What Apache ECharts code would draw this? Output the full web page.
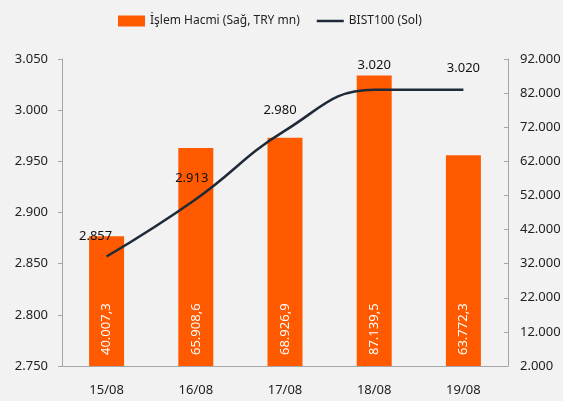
<!DOCTYPE html>
<html>
<head>
<meta charset="utf-8">
<script src="https://cdn.jsdelivr.net/npm/echarts@6/dist/echarts.min.js"></script>
<style>
  html, body { margin: 0; padding: 0; background: #f2f2f2; }
  #main { width: 563px; height: 401px; }
</style>
</head>
<body>
<div id="main"></div>
<script>
// veriler
var days = ['15/08', '16/08', '17/08', '18/08', '19/08'];
var volume = [40007.3, 65908.6, 68926.9, 87139.5, 63772.3];
var bist = [2857, 2913, 2980, 3020, 3020];
var rightTicks = [2000, 12000, 22000, 32000, 42000, 52000, 62000, 72000, 82000, 92000];
var labelOffsets = [[-11, 0], [-4, 0], [-5, 0], [0, -4], [0, -1]];

var fontFam = '"Noto Sans", sans-serif';

function fmtThousands(v) {
  return String(Math.round(v)).replace(/\B(?=(\d{3})+(?!\d))/g, '.');
}
function fmtVol(v) {
  var parts = v.toFixed(1).split('.');
  return parts[0].replace(/\B(?=(\d{3})+(?!\d))/g, '.') + ',' + parts[1];
}

var chart = echarts.init(document.getElementById('main'));
var axisColor = '#a6a6a6';

var option = {
  backgroundColor: '#f2f2f2',
  animation: false,
  textStyle: { fontFamily: fontFam },
  legend: {
    top: 10,
    left: 113,
    itemWidth: 27,
    itemHeight: 11,
    itemGap: 17,
    textStyle: { fontSize: 12, color: '#222', fontFamily: fontFam },
    data: [
      { name: 'İşlem Hacmi (Sağ, TRY mn)', icon: 'rect' },
      { name: 'BIST100 (Sol)', icon: 'path://M0,0H27V2.5H0Z' }
    ]
  },
  grid: { left: 62, right: 55, top: 59, bottom: 35, outerBoundsMode: 'none', containLabel: false },
  xAxis: {
    type: 'category',
    data: days,
    axisLine: { lineStyle: { color: axisColor } },
    axisTick: { inside: true, length: 5, lineStyle: { color: axisColor } },
    axisLabel: { color: '#222', fontSize: 13, margin: 18, fontFamily: fontFam }
  },
  yAxis: [
    {
      type: 'value',
      min: 2750,
      max: 3050,
      interval: 50,
      position: 'left',
      splitLine: { show: false },
      axisLine: { show: true, lineStyle: { color: axisColor } },
      axisTick: { show: true, length: 4, lineStyle: { color: axisColor } },
      axisLabel: {
        color: '#222', fontSize: 13, margin: 14, fontFamily: fontFam,
        formatter: fmtThousands
      }
    },
    {
      type: 'value',
      min: 2000,
      max: 92000,
      position: 'right',
      splitLine: { show: false },
      axisLine: { show: true, lineStyle: { color: axisColor } },
      axisTick: { show: true, inside: true, length: 4, customValues: rightTicks, lineStyle: { color: axisColor } },
      axisLabel: {
        color: '#222', fontSize: 13, margin: 12, fontFamily: fontFam,
        customValues: rightTicks,
        formatter: fmtThousands
      }
    }
  ],
  series: [
    {
      name: 'İşlem Hacmi (Sağ, TRY mn)',
      type: 'bar',
      yAxisIndex: 1,
      barWidth: 35,
      data: volume,
      itemStyle: { color: '#ff5a00' },
      label: {
        show: true,
        position: 'insideBottom',
        rotate: 90,
        align: 'left',
        verticalAlign: 'middle',
        distance: 11,
        color: '#fff',
        fontSize: 13,
        fontFamily: fontFam,
        formatter: function (p) { return fmtVol(p.value); }
      }
    },
    {
      name: 'BIST100 (Sol)',
      type: 'line',
      yAxisIndex: 0,
      smooth: 0.45,
      symbol: 'circle',
      symbolSize: 0,
      showAllSymbol: true,
      z: 5,
      data: bist.map(function (v, i) {
        return { value: v, label: { offset: labelOffsets[i] } };
      }),
      lineStyle: { color: '#1f2a38', width: 2.5 },
      itemStyle: { color: '#1f2a38' },
      label: {
        show: true,
        position: 'top',
        distance: 14,
        color: '#111',
        fontSize: 13,
        fontFamily: fontFam,
        formatter: function (p) { return fmtThousands(p.value); }
      }
    }
  ]
};

chart.setOption(option);
</script>
</body>
</html>
